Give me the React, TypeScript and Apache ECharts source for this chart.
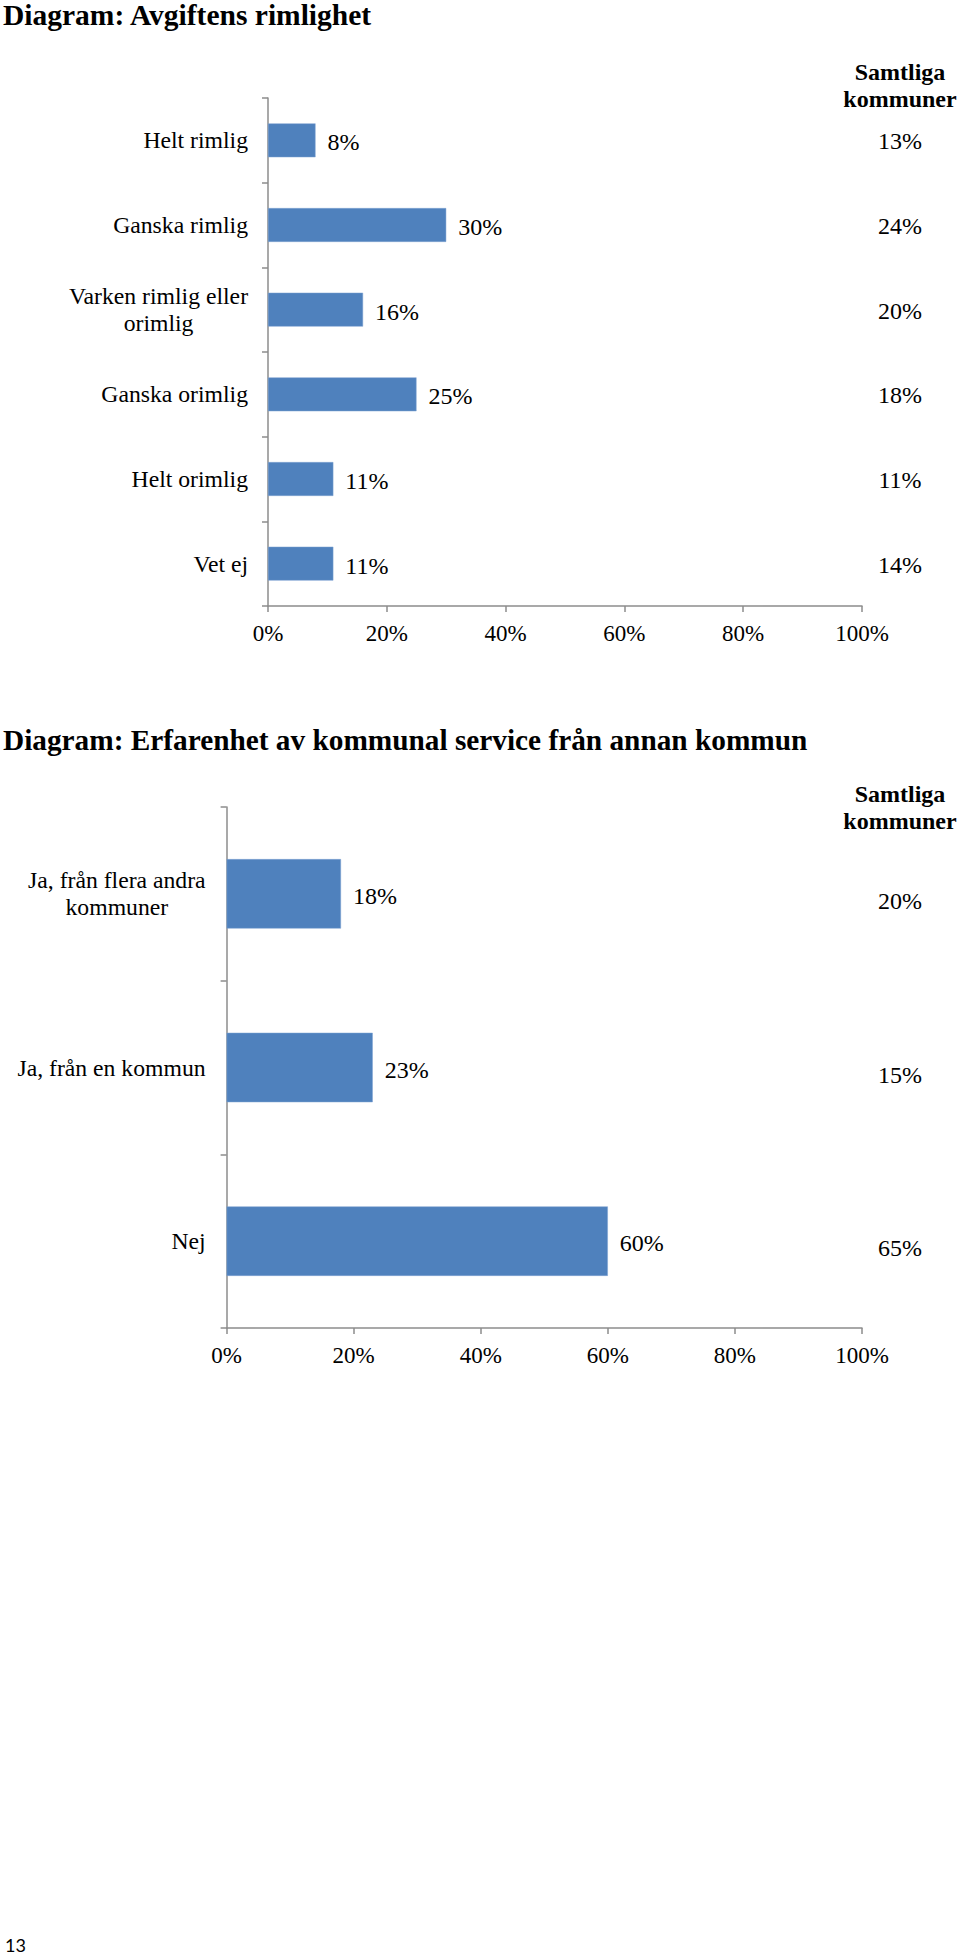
import React, { useEffect, useRef } from "react";
import * as echarts from "echarts";

const title1 = "Diagram: Avgiftens rimlighet";
const categories1 = ["Helt rimlig", "Ganska rimlig", "Varken rimlig eller\norimlig", "Ganska orimlig", "Helt orimlig", "Vet ej"];
const values1 = [8, 30, 16, 25, 11, 11];
const samtliga1 = [13, 24, 20, 18, 11, 14];

const title2 = "Diagram: Erfarenhet av kommunal service från annan kommun";
const categories2 = ["Ja, från flera andra\nkommuner", "Ja, från en kommun", "Nej"];
const values2 = [18, 23, 60];
const samtliga2 = [20, 15, 65];

const samtligaHeader = "Samtliga\nkommuner";
const xTicks = [0, 20, 40, 60, 80, 100];
const pageNumber = "13";

const SERIF = "'Liberation Serif', 'Times New Roman', serif";
const BLUE = "#4F81BD";
const AXIS = "#8c8c8c";

export default function App() {
  const ref = useRef<HTMLDivElement>(null);

  useEffect(() => {
    if (!ref.current) return;
    const chart = echarts.init(ref.current, null, { renderer: "svg" });

    const catLabel = (v: string) =>
      v.includes("\n") ? v.split("\n").map((l) => `{c|${l}}`).join("\n") : v;

    const catAxis = (gridIndex: number, cats: string[], margin: number) => ({
      type: "category",
      gridIndex,
      data: cats,
      inverse: true,
      axisLine: { show: true, lineStyle: { color: AXIS, width: 1.5 } },
      axisTick: { show: true, length: 6, lineStyle: { color: AXIS, width: 1.5 } },
      axisLabel: {
        show: true,
        margin,
        color: "#000",
        fontFamily: SERIF,
        fontSize: 23.7,
        lineHeight: 27,
        align: "right",
        formatter: catLabel,
        rich: {
          c: { fontFamily: SERIF, fontSize: 23.7, lineHeight: 27, color: "#000", align: "center" },
        },
      },
      splitLine: { show: false },
    });

    const valAxis = (gridIndex: number) => ({
      type: "value",
      gridIndex,
      min: xTicks[0],
      max: xTicks[xTicks.length - 1],
      interval: xTicks[1] - xTicks[0],
      axisLine: { show: true, lineStyle: { color: AXIS, width: 1.5 } },
      axisTick: { show: true, length: 6, lineStyle: { color: AXIS, width: 1.5 } },
      axisLabel: {
        show: true,
        margin: 16,
        color: "#000",
        fontFamily: SERIF,
        fontSize: 23,
        formatter: "{value}%",
      },
      splitLine: { show: false },
    });

    const hiddenCat = (gridIndex: number, cats: string[]) => ({
      type: "category",
      gridIndex,
      data: cats,
      inverse: true,
      show: false,
    });
    const hiddenVal = (gridIndex: number) => ({
      type: "value",
      gridIndex,
      min: 0,
      max: 2,
      show: false,
    });

    const barSeries = (idx: number, vals: number[]) => ({
      type: "bar",
      xAxisIndex: idx,
      yAxisIndex: idx,
      data: vals,
      barWidth: "40%",
      itemStyle: { color: BLUE, borderColor: "#7fa3d3", borderWidth: 0.5 },
      label: {
        show: true,
        position: "right",
        distance: 12,
        color: "#000",
        fontFamily: SERIF,
        fontSize: 24,
        formatter: "{c}%",
        offset: [0, 2],
      },
    });

    const samtligaSeries = (idx: number, vals: number[], dy: number) => ({
      type: "scatter",
      xAxisIndex: idx,
      yAxisIndex: idx,
      data: vals.map((_, i) => [1, i]),
      symbolSize: 0.01,
      itemStyle: { color: "#fff" },
      silent: true,
      label: {
        show: true,
        position: "inside",
        offset: [0, dy],
        color: "#000",
        opacity: 1,
        fontFamily: SERIF,
        fontSize: 24,
        formatter: (p: any) => `${vals[p.dataIndex]}%`,
      },
    });

    chart.setOption({
      animation: false,
      backgroundColor: "#fff",
      title: [
        {
          text: title1,
          left: 3,
          top: 0,
          padding: 0,
          textStyle: { fontFamily: SERIF, fontWeight: "bold", fontSize: 29.5, color: "#000" },
        },
        {
          text: title2,
          left: 3,
          top: 725,
          padding: 0,
          textStyle: { fontFamily: SERIF, fontWeight: "bold", fontSize: 29.3, color: "#000" },
        },
        {
          text: samtligaHeader,
          left: 900,
          top: 58,
          padding: 0,
          textAlign: "center",
          textStyle: { fontFamily: SERIF, fontWeight: "bold", fontSize: 24, lineHeight: 27, color: "#000" },
        },
        {
          text: samtligaHeader,
          left: 900,
          top: 780,
          padding: 0,
          textAlign: "center",
          textStyle: { fontFamily: SERIF, fontWeight: "bold", fontSize: 24, lineHeight: 27, color: "#000" },
        },
        {
          text: pageNumber,
          left: 5,
          top: 1936,
          padding: 0,
          textStyle: { fontFamily: "Lato, 'Noto Sans', sans-serif", fontWeight: "normal", fontSize: 18, lineHeight: 18, color: "#000" },
        },
      ],
      grid: [
        { left: 268, right: 98, top: 98, height: 508, containLabel: false },
        { left: 226.6, right: 98, top: 807, height: 521, containLabel: false },
        { left: 840, width: 120, top: 98, height: 508 },
        { left: 840, width: 120, top: 807, height: 521 },
      ],
      xAxis: [valAxis(0), valAxis(1), hiddenVal(2), hiddenVal(3)],
      yAxis: [catAxis(0, categories1, 20), catAxis(1, categories2, 21), hiddenCat(2, categories1), hiddenCat(3, categories2)],
      series: [
        barSeries(0, values1),
        barSeries(1, values2),
        samtligaSeries(2, samtliga1, 1),
        samtligaSeries(3, samtliga2, 7),
      ],
    });

    return () => chart.dispose();
  }, []);

  return (
    <div
      ref={ref}
      style={{ position: "absolute", left: 0, top: 0, width: 960, height: 1957, background: "#fff" }}
    />
  );
}
